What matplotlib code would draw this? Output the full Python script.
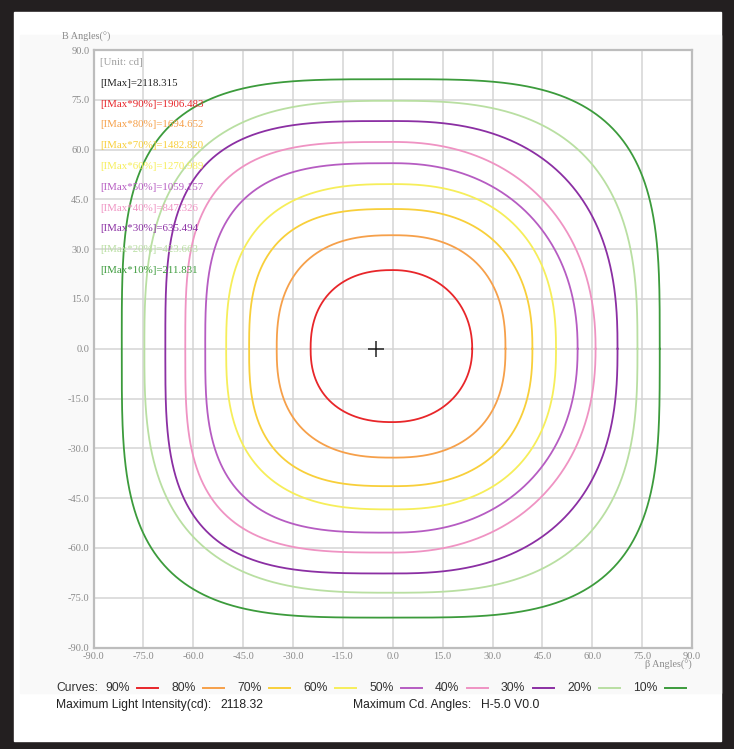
import numpy as np
import matplotlib
matplotlib.use('Agg')
import matplotlib.pyplot as plt
from matplotlib.patches import Rectangle

plt.rcParams['axes.unicode_minus'] = False

# Datos
niveles = ['90%', '80%', '70%', '60%', '50%', '40%', '30%', '20%', '10%']
colores = ['#e8262a', '#f6a04a', '#f8cf3a', '#f6ee5a', '#b65cc2',
           '#ef93c3', '#8b2fa3', '#b9dfa2', '#3c9b3c']
imax = 2118.315
valores = [1906.483, 1694.652, 1482.820, 1270.989, 1059.157,
           847.326, 635.494, 423.663, 211.831]
# extremos de cada curva (grados): izquierda, derecha, arriba, abajo
izq = [-24.7, -34.9, -43.2, -50.1, -56.4, -62.4, -68.4, -74.7, -81.5]
der = [23.9, 33.9, 42.0, 49.1, 55.6, 61.0, 67.6, 73.6, 80.3]
arr = [23.7, 34.2, 42.1, 49.6, 55.9, 62.3, 68.6, 74.7, 81.2]
aba = [-22.1, -32.8, -41.4, -48.4, -55.4, -61.4, -67.7, -73.5, -81.0]
# forma de cada lado (exponente de superelipse)
forma_izq = [2.3, 2.5, 2.8, 2.7, 3.1, 3.3, 3.4, 2.9, 3.6]
forma_der = [2.1, 2.4, 2.4, 2.4, 2.2, 2.2, 2.5, 2.8, 3.5]
ticks = np.arange(-90, 91, 15)
max_h, max_v = -5.0, 0.0

fig = plt.figure(figsize=(7.34, 7.49), dpi=100, facecolor='#231f20')
fig.patches.append(Rectangle((14 / 734, 1 - 741 / 749), 707 / 734, 729 / 749,
                             transform=fig.transFigure, color='white', zorder=-2))
fig.patches.append(Rectangle((20 / 734, 1 - 693 / 749), 701 / 734, 658 / 749,
                             transform=fig.transFigure, color='#f9f9f9', zorder=-1))

ax = fig.add_axes([93.5 / 734, 1 - 647.5 / 749, 598.5 / 734, 597.5 / 749])
ax.set_facecolor('white')
ax.set_xlim(-90, 90)
ax.set_ylim(-90, 90)
ax.set_xticks(ticks)
ax.set_yticks(ticks)
ax.set_xticklabels(['%.1f' % t for t in ticks])
ax.set_yticklabels(['%.1f' % t for t in ticks])
ax.tick_params(length=0, pad=3, labelsize=7.5, labelcolor='#8a8a8a')
for lab in ax.get_xticklabels() + ax.get_yticklabels():
    lab.set_family('Liberation Serif')
ax.grid(True, color='#d4d4d4', lw=1.1)
ax.set_axisbelow(True)
for s in ax.spines.values():
    s.set_color('#bdbdbd')
    s.set_linewidth(1.6)

# Curvas isocandela
t = np.linspace(0, 2 * np.pi, 1441)
c, s = np.cos(t), np.sin(t)
for i in range(len(niveles)):
    n = np.where(c > 0, forma_der[i], forma_izq[i])
    x = np.sign(c) * np.abs(c) ** (2 / n) * np.where(c > 0, der[i], -izq[i])
    y = np.sign(s) * np.abs(s) ** (2 / n) * np.where(s > 0, arr[i], -aba[i])
    ax.plot(x, y, color=colores[i], lw=1.3)

ax.plot([max_h], [max_v], marker='+', ms=11, mew=1.1, color='#222222')

# Textos
y0, dy = 0.979, 0.0348
ax.text(0.0109, y0, '[Unit: cd]', transform=ax.transAxes, color='#a0a0a0',
        fontsize=7.8, family='Liberation Serif', va='center')
ax.text(0.0109, y0 - dy, '[IMax]=%.3f' % imax, transform=ax.transAxes,
        color='#222222', fontsize=7.8, family='Liberation Serif', va='center')
for i in range(len(niveles)):
    ax.text(0.0109, y0 - dy * (i + 2),
            '[IMax*%s]=%.3f' % (niveles[i], valores[i]), transform=ax.transAxes,
            color=colores[i], fontsize=7.8, family='Liberation Serif', va='center')

fig.text(62 / 734, 1 - 37 / 749, 'B Angles(°)', color='#8a8a8a', fontsize=7.3,
         family='Liberation Serif', va='center')
fig.text(692 / 734, 1 - 665 / 749, 'β Angles(°)', color='#8a8a8a', fontsize=7.3,
         family='Liberation Serif', va='center', ha='right')

# Leyenda
yl = 1 - 688 / 749
fig.text(56 / 734, yl, 'Curves:', fontsize=8.7, color='#333333',
         family='Liberation Sans', va='center')
for i in range(len(niveles)):
    x0 = 105 + 66 * i
    fig.text(x0 / 734, yl, niveles[i], fontsize=8.7, color='#333333',
             family='Liberation Sans', va='center')
    fig.add_artist(plt.Line2D([(x0 + 32) / 734, (x0 + 53) / 734], [yl, yl],
                              color=colores[i], lw=1.4, transform=fig.transFigure))

yl2 = 1 - 705 / 749
fig.text(56 / 734, yl2, 'Maximum Light Intensity(cd):', fontsize=8.7,
         color='#222222', family='Liberation Sans', va='center')
fig.text(220 / 734, yl2, '%.2f' % imax, fontsize=8.7, color='#222222',
         family='Liberation Sans', va='center')
fig.text(353 / 734, yl2, 'Maximum Cd. Angles:', fontsize=8.7, color='#222222',
         family='Liberation Sans', va='center')
fig.text(481 / 734, yl2, 'H%.1f V%.1f' % (max_h, max_v), fontsize=8.7,
         color='#222222', family='Liberation Sans', va='center')

fig.savefig('out.png', dpi=100, facecolor=fig.get_facecolor())
